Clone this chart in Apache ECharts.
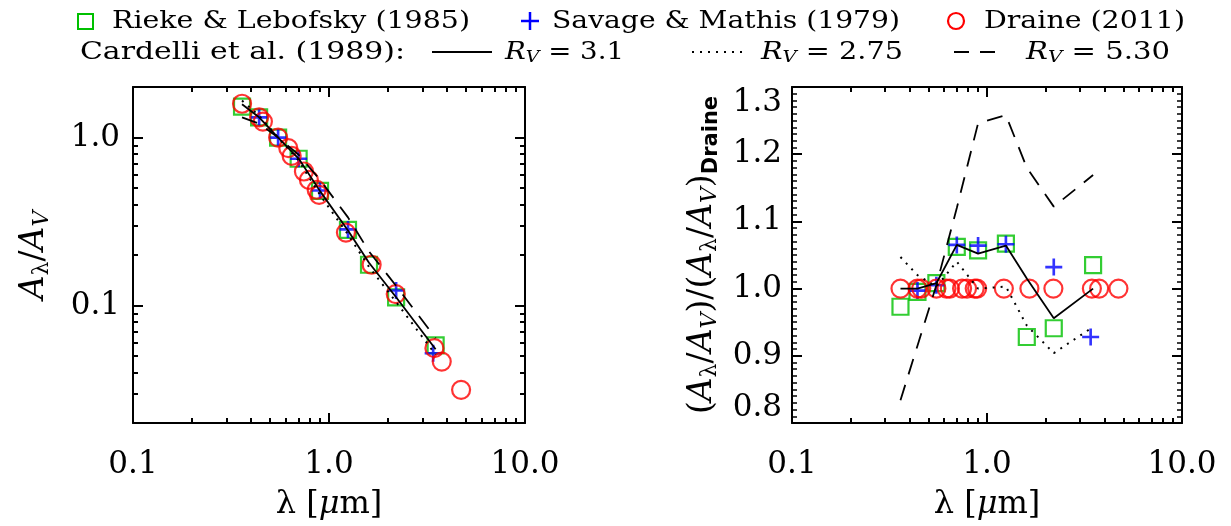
<!DOCTYPE html>
<html><head><meta charset="utf-8">
<script src="https://cdn.jsdelivr.net/npm/echarts@6/dist/echarts.min.js"></script>
<style>html,body{margin:0;padding:0;background:#fff}#c{width:1231px;height:526px}</style>
</head><body><div id="c"></div>
<script>
// ---------------- data ----------------
const lamRL   = [0.36, 0.44, 0.55, 0.70, 0.90, 1.25, 1.6, 2.2, 3.5];
const avRL    = [1.53, 1.32, 1.00, 0.748, 0.482, 0.282, 0.175, 0.112, 0.058];
const ratioRL = [0.973, 0.995, 1.008, 1.062, 1.057, 1.067, 0.928, 0.941, 1.035];

const lamSM   = [0.44, 0.55, 0.70, 0.90, 1.25, 2.2, 3.4];
const avSM    = [1.32, 1.00, 0.748, 0.484, 0.284, 0.123, 0.052];
const ratioSM = [0.997, 1.005, 1.065, 1.064, 1.066, 1.032, 0.928];

const lamDr   = [0.36, 0.44, 0.46, 0.55, 0.62, 0.645, 0.745, 0.79, 0.865, 0.89, 1.22, 1.65, 2.19, 3.45, 3.76, 4.72];
const avDr    = [1.59, 1.32, 1.245, 1.00, 0.865, 0.778, 0.628, 0.56, 0.489, 0.456, 0.272, 0.175, 0.117, 0.0558, 0.0464, 0.0315];
const ratioDr = [1, 1, 1, 1, 1, 1, 1, 1, 1, 1, 1, 1, 1, 1, 1, 1];

const lamCCM      = [0.36, 0.44, 0.55, 0.70, 0.90, 1.25, 1.6, 2.2, 3.5];
const avCCM31     = [1.58, 1.32, 1.00, 0.750, 0.480, 0.280, 0.180, 0.112, 0.055];
const avCCM275    = [1.66, 1.35, 1.00, 0.730, 0.455, 0.265, 0.170, 0.105, 0.051];
const avCCM530    = [1.32, 1.21, 1.00, 0.790, 0.560, 0.335, 0.210, 0.131, 0.064];
const ratioCCM31  = [1.000, 1.000, 1.008, 1.065, 1.052, 1.064, 1.015, 0.956, 1.000];
const ratioCCM275 = [1.047, 1.020, 1.003, 1.040, 1.000, 1.003, 0.945, 0.904, 0.943];
const ratioCCM530 = [0.834, 0.915, 1.005, 1.120, 1.246, 1.258, 1.180, 1.122, 1.169];

const xMajor = [0.1, 1, 10];
const xMajorLabels = ['0.1', '1.0', '10.0'];
const yLogMajor = [0.1, 1];
const yLogMajorLabels = ['0.1', '1.0'];

// minor tick positions for log axes (2..9 x 10^k)
function logMinors(lo, hi) {
  const out = [];
  for (let e = -3; e <= 2; e++) for (let m = 2; m <= 9; m++) {
    const v = m * Math.pow(10, e);
    if (v >= lo * 0.999 && v <= hi * 1.001) out.push(+v.toPrecision(6));
  }
  return out;
}
const xMinor = logMinors(0.1, 10);
const yLogMinor = logMinors(0.02, 2);

// ---------------- styling ----------------
const SERIF = 'DejaVu Serif';
const BLACK = '#000';
const GREEN = '#00c000';
const BLUE = '#0000ff';
const RED = '#ff0000';
const PLUS = 'path://M6.75,0h2.5v6.75h6.75v2.5h-6.75v6.75h-2.5v-6.75h-6.75v-2.5h6.75z';

function labelFrom(values, labels) {
  return function (v) {
    for (let i = 0; i < values.length; i++) {
      if (Math.abs(Math.log10(values[i]) - Math.log10(v)) < 1e-6) return labels[i];
    }
    return '';
  };
}

const richTitle = {
  n: { fontFamily: SERIF, fontSize: 33, color: BLACK },
  i: { fontFamily: SERIF, fontSize: 33, fontStyle: 'italic', color: BLACK },
  s: { fontFamily: SERIF, fontSize: 22, fontStyle: 'italic', color: BLACK, padding: [16, 0, 0, 0] },
  sl: { fontFamily: SERIF, fontSize: 22, color: BLACK, padding: [16, 0, 0, 0] },
  d: { fontFamily: 'DejaVu Sans', fontSize: 21, fontWeight: 'bold', color: BLACK, padding: [18, 0, 0, 0] }
};
const richX = {
  n: { fontFamily: SERIF, fontSize: 32, color: BLACK },
  i: { fontFamily: SERIF, fontSize: 32, fontStyle: 'italic', color: BLACK }
};

function logAxis(grid, position, min, max, ticks, len, extra) {
  return Object.assign({
    type: 'log', logBase: 10, gridIndex: grid, position: position, min: min, max: max,
    axisLine: { show: true, onZero: false, lineStyle: { color: BLACK, width: 2 } },
    axisTick: { show: true, inside: true, length: len, customValues: ticks, lineStyle: { color: BLACK, width: 2 } },
    axisLabel: { show: false },
    splitLine: { show: false }, minorTick: { show: false }, minorSplitLine: { show: false }
  }, extra || {});
}

const tickLabel = { show: true, fontFamily: SERIF, fontSize: 31, color: BLACK };

const xAxes = [];
const yAxes = [];
for (let g = 0; g < 2; g++) {
  xAxes.push(logAxis(g, 'bottom', 0.1, 10, xMajor, 10, {
    axisLabel: Object.assign({}, tickLabel, { customValues: xMajor, margin: 26, formatter: labelFrom(xMajor, xMajorLabels) }),
    name: '{n|λ [}{i|μ}{n|m]}', nameLocation: 'middle', nameGap: 66,
    nameTextStyle: { rich: richX }
  }));
  xAxes.push(logAxis(g, 'bottom', 0.1, 10, xMinor, 5, { axisLine: { show: false } }));
  xAxes.push(logAxis(g, 'top', 0.1, 10, xMajor, 10));
  xAxes.push(logAxis(g, 'top', 0.1, 10, xMinor, 5, { axisLine: { show: false } }));
}
// left panel: log y
yAxes.push(logAxis(0, 'left', 0.02, 2, yLogMajor, 10, {
  axisLabel: Object.assign({}, tickLabel, { customValues: yLogMajor, margin: 13, formatter: labelFrom(yLogMajor, yLogMajorLabels) }),
  name: '{i|A}{sl|λ}{n|/}{i|A}{s|V}', nameLocation: 'middle', nameGap: 80,
  nameTextStyle: { rich: richTitle }
}));
yAxes.push(logAxis(0, 'left', 0.02, 2, yLogMinor, 5, { axisLine: { show: false } }));
yAxes.push(logAxis(0, 'right', 0.02, 2, yLogMajor, 10));
yAxes.push(logAxis(0, 'right', 0.02, 2, yLogMinor, 5, { axisLine: { show: false } }));
// right panel: linear y
function linAxis(position, withLabels) {
  const ax = {
    type: 'value', gridIndex: 1, position: position, min: 0.8, max: 1.3, interval: 0.1,
    axisLine: { show: true, onZero: false, lineStyle: { color: BLACK, width: 2 } },
    axisTick: { show: true, inside: true, length: 10, lineStyle: { color: BLACK, width: 2 } },
    minorTick: { show: true, splitNumber: 10, length: 5, lineStyle: { color: BLACK, width: 1.5 } },
    splitLine: { show: false }, minorSplitLine: { show: false },
    axisLabel: { show: false }
  };
  if (withLabels) {
    ax.axisLabel = Object.assign({}, tickLabel, {
      margin: 10, formatter: function (v) { return v.toFixed(1); },
      verticalAlignMaxLabel: 'top', verticalAlignMinLabel: 'bottom'
    });
    ax.name = '{n|(}{i|A}{sl|λ}{n|/}{i|A}{s|V}{n|)/(}{i|A}{sl|λ}{n|/}{i|A}{s|V}{n|)}{d|Draine}';
    ax.nameLocation = 'middle';
    ax.nameGap = 70;
    ax.nameTextStyle = { rich: richTitle };
  }
  return ax;
}
yAxes.push(linAxis('left', true));
yAxes.push(linAxis('right', false));

function pairs(xs, ys) { return xs.map(function (x, i) { return [x, ys[i]]; }); }

function lineSeries(xi, yi, xs, ys, type) {
  return {
    type: 'line', xAxisIndex: xi, yAxisIndex: yi, data: pairs(xs, ys),
    symbol: 'none', showSymbol: false, silent: true,
    lineStyle: { color: BLACK, width: type === 'dotted' ? 2 : 1.8, type: type === 'solid' ? 'solid' : (type === 'dotted' ? [2, 6] : [16, 11]) }
  };
}
function scatterSeries(xi, yi, xs, ys, kind) {
  const s = { type: 'scatter', xAxisIndex: xi, yAxisIndex: yi, data: pairs(xs, ys), silent: true };
  if (kind === 'sq') { s.symbol = 'rect'; s.symbolSize = 16; s.itemStyle = { color: 'rgba(0,0,0,0)', borderColor: GREEN, borderWidth: 2.2 }; }
  if (kind === 'plus') { s.symbol = PLUS; s.symbolSize = 17; s.itemStyle = { color: BLUE }; }
  if (kind === 'circ') { s.symbol = 'circle'; s.symbolSize = 18; s.itemStyle = { color: 'rgba(0,0,0,0)', borderColor: RED, borderWidth: 2.2 }; }
  return s;
}

const series = [
  lineSeries(0, 0, lamCCM, avCCM31, 'solid'),
  lineSeries(0, 0, lamCCM, avCCM275, 'dotted'),
  lineSeries(0, 0, lamCCM, avCCM530, 'dashed'),
  scatterSeries(0, 0, lamRL, avRL, 'sq'),
  scatterSeries(0, 0, lamSM, avSM, 'plus'),
  scatterSeries(0, 0, lamDr, avDr, 'circ'),
  lineSeries(4, 4, lamCCM, ratioCCM31, 'solid'),
  lineSeries(4, 4, lamCCM, ratioCCM275, 'dotted'),
  lineSeries(4, 4, lamCCM, ratioCCM530, 'dashed'),
  scatterSeries(4, 4, lamRL, ratioRL, 'sq'),
  scatterSeries(4, 4, lamSM, ratioSM, 'plus'),
  scatterSeries(4, 4, lamDr, ratioDr, 'circ')
];

// ---------------- legend (drawn as graphic, each text fitted to its span) ----------------
const LFONT = 25, LSUB = 17;
const mctx = document.createElement('canvas').getContext('2d');
function measure(parts) {
  let w = 0;
  parts.forEach(function (p) { mctx.font = p[1]; w += mctx.measureText(p[0]).width; });
  return w;
}
const legRich = {
  i: { fontFamily: SERIF, fontSize: LFONT, fontStyle: 'italic', fill: BLACK },
  s: { fontFamily: SERIF, fontSize: LSUB, fontStyle: 'italic', fill: BLACK, padding: [12, 0, 0, 0] },
  n: { fontFamily: SERIF, fontSize: LFONT, fill: BLACK }
};
function ltext(x1, x2, y, t) {
  const w = measure([[t, LFONT + 'px "' + SERIF + '"']]);
  return { type: 'text', x: x1, y: y, scaleX: (x2 - x1) / w, silent: true,
    style: { text: t, fontFamily: SERIF, fontSize: LFONT, fill: BLACK, verticalAlign: 'middle', align: 'left' } };
}
function rvtext(x1, x2, y, val) {
  const w = measure([['R', 'italic ' + LFONT + 'px "' + SERIF + '"'], ['V', 'italic ' + LSUB + 'px "' + SERIF + '"'], [' = ' + val, LFONT + 'px "' + SERIF + '"']]);
  return { type: 'text', x: x1, y: y, scaleX: (x2 - x1) / w, silent: true,
    style: { text: '{i|R}{s|V}{n| = ' + val + '}', rich: legRich, fontFamily: SERIF, fontSize: LFONT, fill: BLACK, verticalAlign: 'middle', align: 'left' } };
}
function lline(x1, x2, y, dash, color, w) {
  return { type: 'line', silent: true, shape: { x1: x1, y1: y, x2: x2, y2: y },
    style: { stroke: color || BLACK, lineWidth: w || 2, lineDash: dash } };
}
const R1 = 21, R2 = 52;
const graphic = [
  { type: 'rect', silent: true, shape: { x: 78, y: R1 - 7, width: 15, height: 15 }, style: { fill: 'none', stroke: GREEN, lineWidth: 2 } },
  ltext(112, 470, R1, 'Rieke & Lebofsky (1985)'),
  lline(521, 539, R1, null, BLUE, 2.5),
  { type: 'line', silent: true, shape: { x1: 530, y1: R1 - 9, x2: 530, y2: R1 + 9 }, style: { stroke: BLUE, lineWidth: 2.5 } },
  ltext(552, 900, R1, 'Savage & Mathis (1979)'),
  { type: 'circle', silent: true, shape: { cx: 956, cy: R1, r: 8 }, style: { fill: 'none', stroke: RED, lineWidth: 2.2 } },
  ltext(984, 1185, R1, 'Draine (2011)'),
  ltext(80, 405, R2, 'Cardelli et al. (1989):'),
  lline(432, 492, R2, null),
  rvtext(505, 624, R2, '3.1'),
  lline(692, 745, R2, [2, 6]),
  rvtext(761, 903, R2, '2.75'),
  lline(954, 1002, R2, [15, 11]),
  rvtext(1026, 1170, R2, '5.30')
];

const chart = echarts.init(document.getElementById('c'), null, { renderer: 'canvas' });
chart.setOption({
  animation: false,
  backgroundColor: '#fff',
  grid: [
    { left: 133, top: 87, width: 392, height: 336, containLabel: false },
    { left: 792, top: 87, width: 390, height: 336, containLabel: false }
  ],
  xAxis: xAxes,
  yAxis: yAxes,
  series: series,
  graphic: graphic
});
</script></body></html>
